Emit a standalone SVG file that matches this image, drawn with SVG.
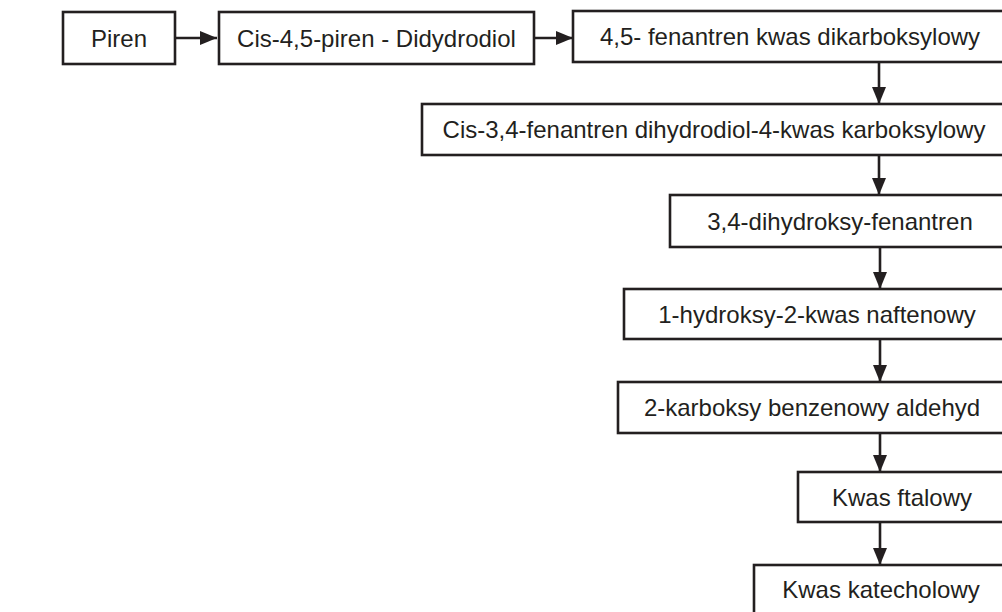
<svg xmlns="http://www.w3.org/2000/svg" width="1002" height="612" viewBox="0 0 1002 612">
<style>
  .box{fill:#fff;stroke:#231f20;stroke-width:2.6}
  .lbl{font-family:"Liberation Sans",Arial,sans-serif;font-size:24px;fill:#231f20;text-anchor:middle}
  .conn{stroke:#231f20;stroke-width:2.6;fill:none}
</style>
<defs>
  <marker id="ah" viewBox="0 0 17 14" refX="17" refY="7" markerWidth="17" markerHeight="14" markerUnits="userSpaceOnUse" orient="auto">
    <path d="M0,0 L17,7 L0,14 Z" fill="#231f20"/>
  </marker>
</defs>
<rect width="1002" height="612" fill="#fff"/>
<g id="connectors">
  <line class="conn" x1="175" y1="38" x2="217" y2="38" marker-end="url(#ah)"/>
  <line class="conn" x1="534" y1="38" x2="573" y2="38" marker-end="url(#ah)"/>
  <line class="conn" x1="879" y1="62" x2="879" y2="104" marker-end="url(#ah)"/>
  <line class="conn" x1="879" y1="155" x2="879" y2="195" marker-end="url(#ah)"/>
  <line class="conn" x1="880" y1="247" x2="880" y2="289" marker-end="url(#ah)"/>
  <line class="conn" x1="880" y1="339" x2="880" y2="382" marker-end="url(#ah)"/>
  <line class="conn" x1="880" y1="433" x2="880" y2="472" marker-end="url(#ah)"/>
  <line class="conn" x1="880" y1="522" x2="880" y2="565" marker-end="url(#ah)"/>
</g>
<g id="n1"><rect class="box" x="63" y="12" width="112" height="52"/><text class="lbl" x="119" y="47">Piren</text></g>
<g id="n2"><rect class="box" x="219" y="12" width="315" height="52"/><text class="lbl" x="376.5" y="47">Cis-4,5-piren - Didydrodiol</text></g>
<g id="n3"><rect class="box" x="573" y="11" width="435" height="51"/><text class="lbl" x="790" y="45">4,5- fenantren kwas dikarboksylowy</text></g>
<g id="n4"><rect class="box" x="422" y="104" width="586" height="51"/><text class="lbl" x="714" y="138">Cis-3,4-fenantren dihydrodiol-4-kwas karboksylowy</text></g>
<g id="n5"><rect class="box" x="670" y="195" width="340" height="52"/><text class="lbl" x="840" y="229.5">3,4-dihydroksy-fenantren</text></g>
<g id="n6"><rect class="box" x="624" y="289" width="386" height="50"/><text class="lbl" x="817" y="322.5">1-hydroksy-2-kwas naftenowy</text></g>
<g id="n7"><rect class="box" x="618" y="382" width="392" height="51"/><text class="lbl" x="812" y="416">2-karboksy benzenowy aldehyd</text></g>
<g id="n8"><rect class="box" x="798" y="472" width="212" height="50"/><text class="lbl" x="902" y="506">Kwas ftalowy</text></g>
<g id="n9"><rect class="box" x="754" y="565" width="256" height="52"/><text class="lbl" x="881" y="598">Kwas katecholowy</text></g>
</svg>
